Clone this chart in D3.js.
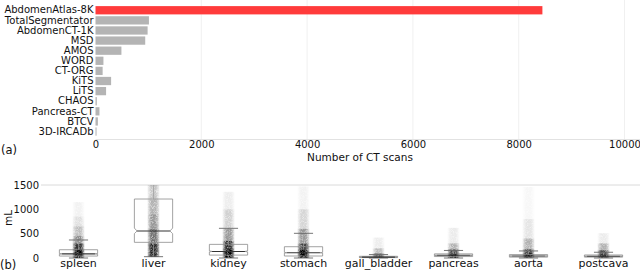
<!DOCTYPE html>
<html>
<head>
<meta charset="utf-8">
<script src="https://cdn.jsdelivr.net/npm/d3@7/dist/d3.min.js"></script>
<style>
  body { margin: 0; background: #fff; }
  svg text { font-family: "DejaVu Sans", sans-serif; }
</style>
</head>
<body>
<svg id="chart" width="640" height="271" style="display:block"></svg>
<script>
// (a) dataset sizes
const datasets = ["AbdomenAtlas-8K", "TotalSegmentator", "AbdomenCT-1K", "MSD", "AMOS", "WORD",
  "CT-ORG", "KiTS", "LiTS", "CHAOS", "Pancreas-CT", "BTCV", "3D-IRCADb"]
const ctScans = [8448, 1010, 985, 940, 490, 150, 135, 295, 200, 25, 75, 45, 20]
const scanTicks = [0, 2000, 4000, 6000, 8000, 10000]

// (b) organ volumes (mL)
const organs = ["spleen", "liver", "kidney", "stomach", "gall_bladder", "pancreas", "aorta", "postcava"]
const q1 = [40, 322, 60, 41, 8, 30, 18, 18]
const median = [85, 555, 135, 108, 18, 55, 40, 35]
const q3 = [170, 1212, 280, 232, 35, 85, 70, 62]
const whiskerLow = [0, 27, 0, 0, 0, 0, 0, 0]
const whiskerHigh = [370, 1700, 610, 507, 70, 155, 145, 118]
const notchLow = [78, 500, 125, 100, 15, 51, 36, 31]
const notchHigh = [92, 615, 145, 116, 21, 59, 44, 39]
// point cloud: value breakpoints and relative density of the scatter between them
const cloudEdges = [
  [0, 200, 300, 450, 650, 850, 1150],
  [20, 300, 600, 900, 1200, 1500],
  [0, 200, 350, 600, 1000, 1360],
  [0, 180, 300, 600, 1000, 1470],
  [0, 50, 100, 200, 420],
  [0, 100, 180, 300, 620],
  [0, 100, 180, 400, 800, 1460],
  [0, 90, 160, 300, 510]
]
const cloudDensity = [
  [1, 0.8, 0.45, 0.25, 0.12, 0.05],
  [0.85, 0.55, 0.4, 0.3, 0.22],
  [1, 0.8, 0.4, 0.18, 0.07],
  [1, 0.75, 0.4, 0.16, 0.05],
  [1, 0.55, 0.25, 0.07],
  [1, 0.7, 0.3, 0.08],
  [1, 0.7, 0.3, 0.1, 0.03],
  [1, 0.7, 0.3, 0.08]
]
const volTicks = [0, 500, 1000, 1500]

const svg = d3.select("#chart")

// ---------- (a) ----------
const x = d3.scaleLinear().domain([0, 10000]).range([95.5, 624.5])
const y = d3.scaleBand().domain(datasets).range([5.2, 136.6])
  .paddingInner(0.18).paddingOuter(0.09)

const topG = svg.append("g")

topG.selectAll(".grid").data(scanTicks.slice(1)).enter()
  .append("line")
  .attr("x1", d => x(d)).attr("x2", d => x(d))
  .attr("y1", 0).attr("y2", 139.5)
  .attr("stroke", "#ececec").attr("stroke-width", 0.8)

topG.append("line")
  .attr("x1", x(0)).attr("x2", 640)
  .attr("y1", 139.5).attr("y2", 139.5)
  .attr("stroke", "#e2e2e2").attr("stroke-width", 1)

topG.selectAll("rect").data(ctScans).enter()
  .append("rect")
  .attr("x", x(0))
  .attr("y", (d, i) => y(datasets[i]))
  .attr("width", d => x(d) - x(0))
  .attr("height", y.bandwidth())
  .attr("fill", (d, i) => i === 0 ? "#ff3b3b" : "#b4b4b4")

const xAxis = topG.append("g")
  .attr("transform", "translate(0,139.5)")
  .call(d3.axisBottom(x).tickValues(scanTicks).tickSize(0).tickPadding(1).tickFormat(d3.format("d")))
xAxis.select(".domain").remove()
xAxis.selectAll("text").attr("font-size", 10).attr("fill", "#111")

const yAxis = topG.append("g")
  .attr("transform", `translate(${x(0) - 1},0)`)
  .call(d3.axisLeft(y).tickSize(0).tickPadding(1))
yAxis.select(".domain").remove()
yAxis.selectAll("text").attr("font-size", 10).attr("fill", "#111")

topG.append("text")
  .attr("x", (x(0) + x(10000)) / 2).attr("y", 160.5)
  .attr("text-anchor", "middle").attr("font-size", 10.5).attr("fill", "#111")
  .text("Number of CT scans")

svg.append("text").attr("x", 1).attr("y", 153.5)
  .attr("font-size", 11.5).attr("fill", "#111").text("(a)")

// ---------- (b) ----------
const bx = d3.scaleBand().domain(organs).range([41, 641]).padding(0)
const by = d3.scaleLinear().domain([0, 1500]).range([258, 185])
const boxW = bx.bandwidth() * 0.51
const cloudW = bx.bandwidth() * 0.16
const cx = o => bx(o) + bx.bandwidth() / 2

const defs = svg.append("defs")
defs.append("clipPath").attr("id", "plotb")
  .append("rect").attr("x", 41).attr("y", 185).attr("width", 600).attr("height", 75)

const grad = defs.append("linearGradient").attr("id", "cloudfade")
  .attr("x1", 0).attr("x2", 1).attr("y1", 0).attr("y2", 0)
grad.append("stop").attr("offset", 0).attr("stop-color", "#000").attr("stop-opacity", 0.2)
grad.append("stop").attr("offset", 0.3).attr("stop-color", "#000").attr("stop-opacity", 1)
grad.append("stop").attr("offset", 0.7).attr("stop-color", "#000").attr("stop-opacity", 1)
grad.append("stop").attr("offset", 1).attr("stop-color", "#000").attr("stop-opacity", 0.2)

const speck = defs.append("filter").attr("id", "speck")
  .attr("x", 0).attr("y", 0).attr("width", 1).attr("height", 1)
speck.append("feTurbulence").attr("type", "fractalNoise")
  .attr("baseFrequency", 2.2).attr("numOctaves", 1).attr("seed", 7).attr("result", "noise")
speck.append("feColorMatrix").attr("in", "noise").attr("type", "matrix")
  .attr("values", "0 0 0 0 0  0 0 0 0 0  0 0 0 0 0  0 0 0 -1.6 1.7").attr("result", "mask")
speck.append("feComposite").attr("in", "SourceGraphic").attr("in2", "mask").attr("operator", "in")

const bottomG = svg.append("g")

bottomG.append("line")
  .attr("x1", 41).attr("x2", 640)
  .attr("y1", by(1500)).attr("y2", by(1500))
  .attr("stroke", "#dadada").attr("stroke-width", 1)

const plot = bottomG.append("g").attr("clip-path", "url(#plotb)")

const opacity = d3.scaleLinear().domain([0, 1]).range([0, 1])

// scatter clouds
organs.forEach((o, i) => {
  const segs = cloudDensity[i].map((dv, k) => ({ lo: cloudEdges[i][k], hi: cloudEdges[i][k + 1], dv }))
  const g = plot.append("g").attr("filter", "url(#speck)")
  g.selectAll("rect").data(segs).enter()
    .append("rect")
    .attr("x", cx(o) - cloudW / 2)
    .attr("width", cloudW)
    .attr("y", d => by(d.hi))
    .attr("height", d => by(d.lo) - by(d.hi))
    .attr("fill", "url(#cloudfade)")
    .attr("fill-opacity", d => opacity(d.dv))
})

// boxes
organs.forEach((o, i) => {
  const c = cx(o), L = c - boxW / 2, R = c + boxW / 2, inset = boxW * 0.07
  const capL = c - boxW / 4, capR = c + boxW / 4
  const g = plot.append("g")
  const pts = [
    [L, by(q1[i])], [L, by(notchLow[i])], [L + inset, by(median[i])], [L, by(notchHigh[i])], [L, by(q3[i])],
    [R, by(q3[i])], [R, by(notchHigh[i])], [R - inset, by(median[i])], [R, by(notchLow[i])], [R, by(q1[i])]
  ]
  g.append("path")
    .attr("d", d3.line()(pts) + "Z")
    .attr("fill", "none").attr("stroke", "#8c8c8c").attr("stroke-width", 0.8)
  g.append("line")
    .attr("x1", c).attr("x2", c).attr("y1", by(q3[i])).attr("y2", by(whiskerHigh[i]))
    .attr("stroke", "#999").attr("stroke-width", 0.7)
  g.append("line")
    .attr("x1", c).attr("x2", c).attr("y1", by(q1[i])).attr("y2", by(whiskerLow[i]))
    .attr("stroke", "#999").attr("stroke-width", 0.7)
  ;[whiskerHigh[i], whiskerLow[i]].forEach(v => {
    g.append("line")
      .attr("x1", capL).attr("x2", capR).attr("y1", by(v)).attr("y2", by(v))
      .attr("stroke", "#666").attr("stroke-width", 0.9)
  })
  g.append("line")
    .attr("x1", L + inset).attr("x2", R - inset).attr("y1", by(median[i])).attr("y2", by(median[i]))
    .attr("stroke", "#333").attr("stroke-width", 1.1)
})

const bxAxis = bottomG.append("g")
  .attr("transform", "translate(0,258)")
  .call(d3.axisBottom(bx).tickSize(0).tickPadding(1))
bxAxis.select(".domain").remove()
bxAxis.selectAll("text").attr("font-size", 11).attr("fill", "#111")

const byAxis = bottomG.append("g")
  .attr("transform", "translate(41,0)")
  .call(d3.axisLeft(by).tickValues(volTicks).tickSize(0).tickPadding(2).tickFormat(d3.format("d")))
byAxis.select(".domain").remove()
byAxis.selectAll("text").attr("font-size", 10).attr("fill", "#111")

bottomG.append("text")
  .attr("transform", "translate(12,218) rotate(-90)")
  .attr("text-anchor", "middle").attr("font-size", 10.5).attr("fill", "#111")
  .text("mL")

svg.append("text").attr("x", 0).attr("y", 269)
  .attr("font-size", 11.5).attr("fill", "#111").text("(b)")
</script>
</body>
</html>
